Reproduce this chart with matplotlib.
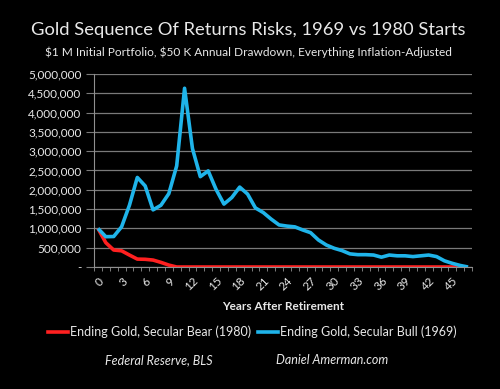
import matplotlib.pyplot as plt
import numpy as np

# values
years = list(range(48))
bull1969 = [1000000, 785000, 790000, 1040000, 1600000, 2320000, 2100000, 1480000, 1600000, 1900000,
            2620000, 4630000, 3070000, 2340000, 2490000, 2010000, 1630000, 1800000, 2070000, 1890000,
            1530000, 1410000, 1240000, 1090000, 1060000, 1040000, 960000, 890000, 700000, 570000,
            485000, 425000, 340000, 320000, 320000, 310000, 255000, 310000, 290000, 290000,
            270000, 290000, 310000, 270000, 160000, 95000, 40000, 0]
bear1980 = [1000000, 630000, 440000, 420000, 310000, 205000, 200000, 180000, 120000, 50000,
            0, 0, 0, 0, 0, 0, 0, 0, 0, 0,
            0, 0, 0, 0, 0, 0, 0, 0, 0, 0,
            0, 0, 0, 0, 0, 0, 0, 0, 0, 0,
            0, 0, 0, 0, 0, 0, 0]
yticks = list(range(0, 5000001, 500000))
ylabels = ["-"] + [f"{v:,}" for v in yticks[1:]]

plt.rcParams['font.family'] = ['Lato', 'DejaVu Sans']
fg = "#e8e8e8"

fig = plt.figure(figsize=(5, 3.89), dpi=100, facecolor="black")
ax = fig.add_axes([0.188, 0.3136, 0.756, 0.4962], facecolor="black")

ax.plot(range(len(bear1980)), bear1980, color="#ff2020", lw=2.6, solid_capstyle="butt")
ax.plot(years, bull1969, color="#1fb4ea", lw=2.6, solid_capstyle="butt")

ax.set_xlim(-0.5, 47.5)
ax.set_ylim(0, 5000000)
ax.set_yticks(yticks)
ax.set_yticklabels(ylabels)
ax.yaxis.grid(True, color="#7a7a7a", lw=0.9)
ax.set_axisbelow(True)

ax.set_xticks(np.arange(-0.5, 48, 1), minor=True)
ax.set_xticks(range(0, 48, 3))
ax.set_xticklabels([str(v) for v in range(0, 48, 3)], rotation=45, ha="right", va="top",
                   rotation_mode="anchor")
ax.tick_params(axis="x", which="major", length=0, pad=6, colors=fg, labelsize=8.5)
ax.tick_params(axis="x", which="minor", length=3, color="#909090", direction="out")
ax.tick_params(axis="y", length=6, color="#7a7a7a", colors=fg, labelsize=8.5, pad=3)

for s in ["top", "right"]:
    ax.spines[s].set_visible(False)
ax.spines["left"].set_color("#909090")
ax.spines["bottom"].set_color("#909090")

ax.set_xlabel("Years After Retirement", color=fg, fontsize=8.5, fontweight="bold", labelpad=6)

fig.text(0.496, 0.922, "Gold Sequence Of Returns Risks, 1969 vs 1980 Starts", color=fg,
         fontsize=13.2, ha="center", va="center")
fig.text(0.496, 0.866, r"\$1 M Initial Portfolio, \$50 K Annual Drawdown, Everything Inflation-Adjusted",
         color=fg, fontsize=8.6, ha="center", va="center")

# legend
fig.lines.append(plt.Line2D([0.096, 0.136], [0.147, 0.147], transform=fig.transFigure,
                            color="#ff2020", lw=2.6))
fig.text(0.139, 0.147, "Ending Gold, Secular Bear (1980)", color=fg, fontsize=9, va="center")
fig.lines.append(plt.Line2D([0.516, 0.556], [0.147, 0.147], transform=fig.transFigure,
                            color="#1fb4ea", lw=2.6))
fig.text(0.559, 0.147, "Ending Gold, Secular Bull (1969)", color=fg, fontsize=9, va="center")

fig.text(0.318, 0.074, "Federal Reserve, BLS", color=fg, fontsize=9, style="italic",
         ha="center", va="center")
fig.text(0.665, 0.074, "Daniel Amerman.com", color=fg, fontsize=9, style="italic",
         ha="center", va="center")

fig.savefig("out.png", dpi=100, facecolor="black")
